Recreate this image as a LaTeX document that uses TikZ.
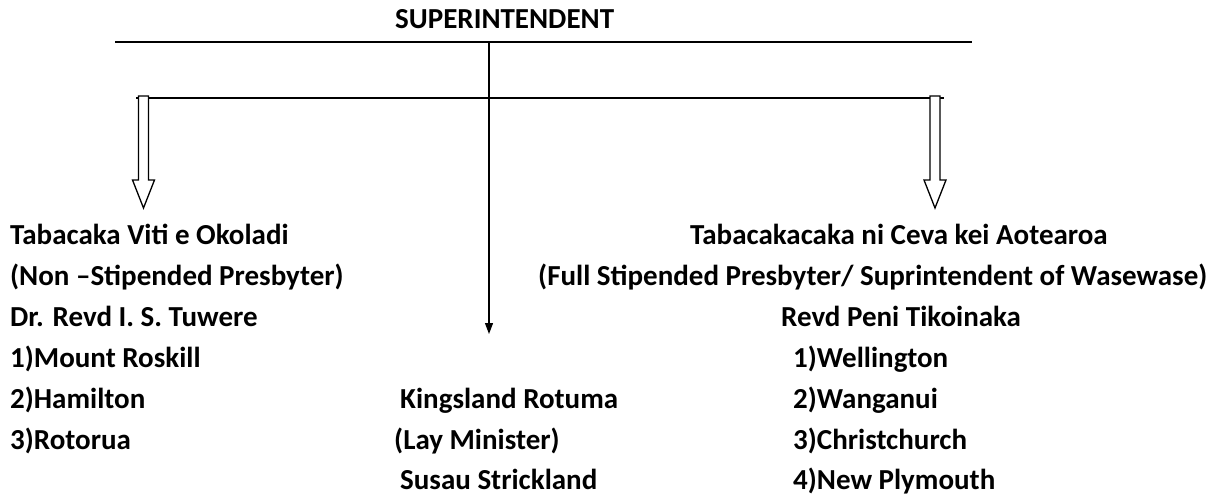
\documentclass[tikz,border=0pt]{standalone}
\usepackage{fontspec}
\setmainfont{Carlito}
\usetikzlibrary{arrows.meta}
\begin{document}
\begin{tikzpicture}[x=1pt,y=-1pt,
  lbl/.style={anchor=base west,inner sep=0pt,font=\fontsize{29}{33}\selectfont\bfseries},
  hollow/.style={draw=black,line width=1.3pt,fill=white}]
\useasboundingbox (0,0) rectangle (1227,495);
% title
\node[lbl] (sup) at (395,29) {SUPERINTENDENT};
% top bar
\coordinate (tl) at (115,42);
\coordinate (tr) at (972,42);
\draw[line width=1.6pt] (tl) -- (tr);
\coordinate (tm) at (489,42);
% second bar
\coordinate (bl) at (136,98);
\coordinate (br) at (944,98);
\draw[line width=1.6pt] (bl) -- (br);
% central arrow
\coordinate (ctip) at (489,334);
\draw[line width=1.2pt,-{Triangle[length=11pt,width=8pt]}] (tm) -- (ctip);
% hollow arrows
\newcommand{\hollowarrow}[1]{%
  \draw[hollow] (#1-5,96) -- (#1+5,96) -- (#1+5,180) -- (#1+11,180) -- (#1,208) -- (#1-11,180) -- (#1-5,180) -- cycle;}
\hollowarrow{143.5}
\hollowarrow{935}
% left block
\node[lbl] (l1) at (10,244) {Tabacaka Viti e Okoladi};
\node[lbl] (l2) at (10,285) {(Non –Stipended Presbyter)};
\node[lbl] (l3) at (10,326) {Dr. Revd I. S. Tuwere};
\node[lbl] (l4) at (10,367) {1)Mount Roskill};
\node[lbl] (l5) at (10,408) {2)Hamilton};
\node[lbl] (l6) at (10,449) {3)Rotorua};
% middle block
\node[lbl] (m1) at (400,408) {Kingsland Rotuma};
\node[lbl] (m2) at (394,449) {(Lay Minister)};
\node[lbl] (m3) at (400,489) {Susau Strickland};
% right block
\node[lbl] (r1) at (690,244) {Tabacakacaka ni Ceva kei Aotearoa};
\node[lbl] (r2) at (538,285) {(Full Stipended Presbyter/ Suprintendent of Wasewase)};
\node[lbl] (r3) at (781,326) {Revd Peni Tikoinaka};
\node[lbl] (r4) at (793,367) {1)Wellington};
\node[lbl] (r5) at (793,408) {2)Wanganui};
\node[lbl] (r6) at (793,449) {3)Christchurch};
\node[lbl] (r7) at (793,489) {4)New Plymouth};
\end{tikzpicture}
\end{document}
